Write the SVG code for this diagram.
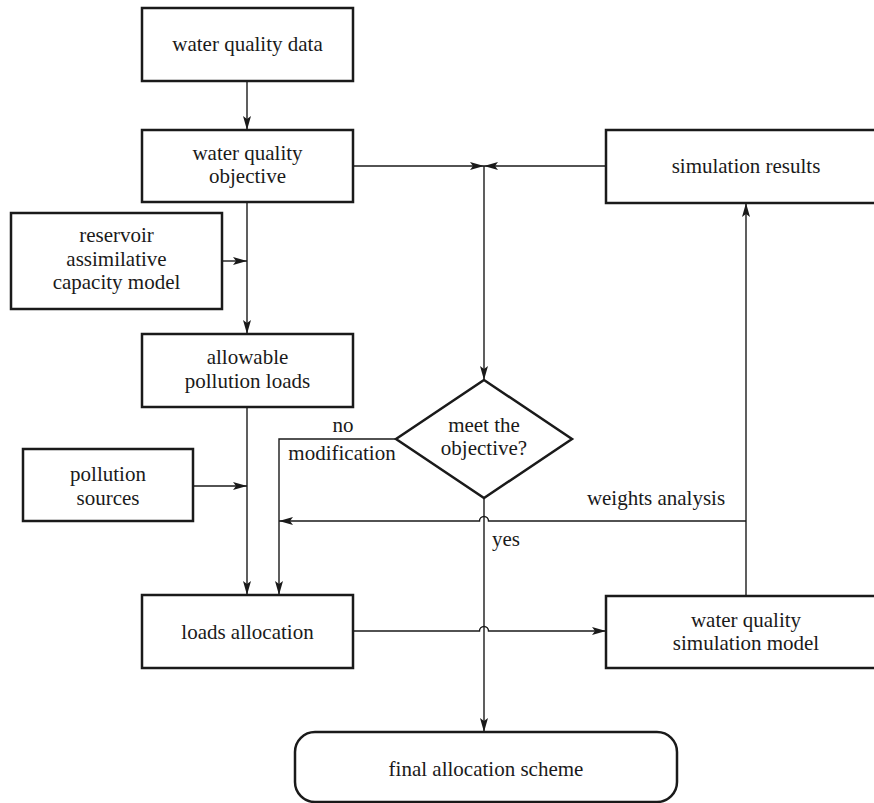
<svg xmlns="http://www.w3.org/2000/svg" width="874" height="803" viewBox="0 0 874 803">
<defs>
<style>
.box{fill:#fff;stroke:#1a1a1a;stroke-width:2.5}
.ln{fill:none;stroke:#1a1a1a;stroke-width:1.4}
text{font-family:'Liberation Serif','DejaVu Serif',serif;font-size:21px;fill:#1a1a1a}
.t{text-anchor:middle}
</style>
<marker id="ar" viewBox="0 0 14 8" refX="14" refY="4" markerWidth="14" markerHeight="8" markerUnits="userSpaceOnUse" orient="auto">
<path d="M0,0 L14,4 L0,8 L3,4 z" fill="#1a1a1a"/>
</marker>
</defs>
<rect width="874" height="803" fill="#fff"/>
<g id="connectors">
<path class="ln" d="M247,81 V130" marker-end="url(#ar)"/>
<path class="ln" d="M353,166 H484" marker-end="url(#ar)"/>
<path class="ln" d="M606,166 H484" marker-end="url(#ar)"/>
<path class="ln" d="M484,166 V380" marker-end="url(#ar)"/>
<path class="ln" d="M247,202 V334" marker-end="url(#ar)"/>
<path class="ln" d="M222,261 H247" marker-end="url(#ar)"/>
<path class="ln" d="M247,407 V595" marker-end="url(#ar)"/>
<path class="ln" d="M193,486 H247" marker-end="url(#ar)"/>
<path class="ln" d="M396,439 H279 V595" marker-end="url(#ar)"/>
<path class="ln" d="M746,521 H488.5 A4.5,4.5 0 0 0 479.5,521 H279" marker-end="url(#ar)"/>
<path class="ln" d="M484,498 V732" marker-end="url(#ar)"/>
<path class="ln" d="M353,631 H479.5 A4.5,4.5 0 0 1 488.5,631 H606" marker-end="url(#ar)"/>
<path class="ln" d="M746,596 V203" marker-end="url(#ar)"/>
</g>
<g id="water-quality-data">
<rect class="box" x="142" y="8" width="211" height="73"/>
<text class="t" x="247.5" y="51" font-family="Liberation Serif, serif">water quality data</text>
</g>
<g id="water-quality-objective">
<rect class="box" x="142" y="130" width="211" height="72"/>
<text class="t" x="247.5" y="160">water quality</text>
<text class="t" x="247.5" y="183">objective</text>
</g>
<g id="reservoir-model">
<rect class="box" x="11" y="213" width="211" height="96"/>
<text class="t" x="116.5" y="242">reservoir</text>
<text class="t" x="116.5" y="266">assimilative</text>
<text class="t" x="116.5" y="289">capacity model</text>
</g>
<g id="allowable-loads">
<rect class="box" x="142" y="334" width="211" height="73"/>
<text class="t" x="247.5" y="364">allowable</text>
<text class="t" x="247.5" y="388">pollution loads</text>
</g>
<g id="pollution-sources">
<rect class="box" x="23" y="449" width="170" height="72"/>
<text class="t" x="108" y="481">pollution</text>
<text class="t" x="108" y="505">sources</text>
</g>
<g id="loads-allocation">
<rect class="box" x="142" y="595" width="211" height="73"/>
<text class="t" x="247.5" y="639">loads allocation</text>
</g>
<g id="simulation-results">
<rect class="box" x="606" y="130" width="280" height="73"/>
<text class="t" x="746" y="173">simulation results</text>
</g>
<g id="decision">
<polygon class="box" points="484,380 572,439 484,498 396,439"/>
<text class="t" x="484" y="432">meet the</text>
<text class="t" x="484" y="455">objective?</text>
</g>
<g id="simulation-model">
<rect class="box" x="606" y="596" width="280" height="72"/>
<text class="t" x="746" y="627">water quality</text>
<text class="t" x="746" y="650">simulation model</text>
</g>
<g id="final-scheme">
<rect class="box" x="295" y="732" width="382" height="70" rx="20" ry="20"/>
<text class="t" x="486" y="776">final allocation scheme</text>
</g>
<g id="labels">
<text class="t" x="343" y="432">no</text>
<text class="t" x="342" y="460">modification</text>
<text x="492" y="546">yes</text>
<text class="t" x="656" y="505">weights analysis</text>
</g>
</svg>
